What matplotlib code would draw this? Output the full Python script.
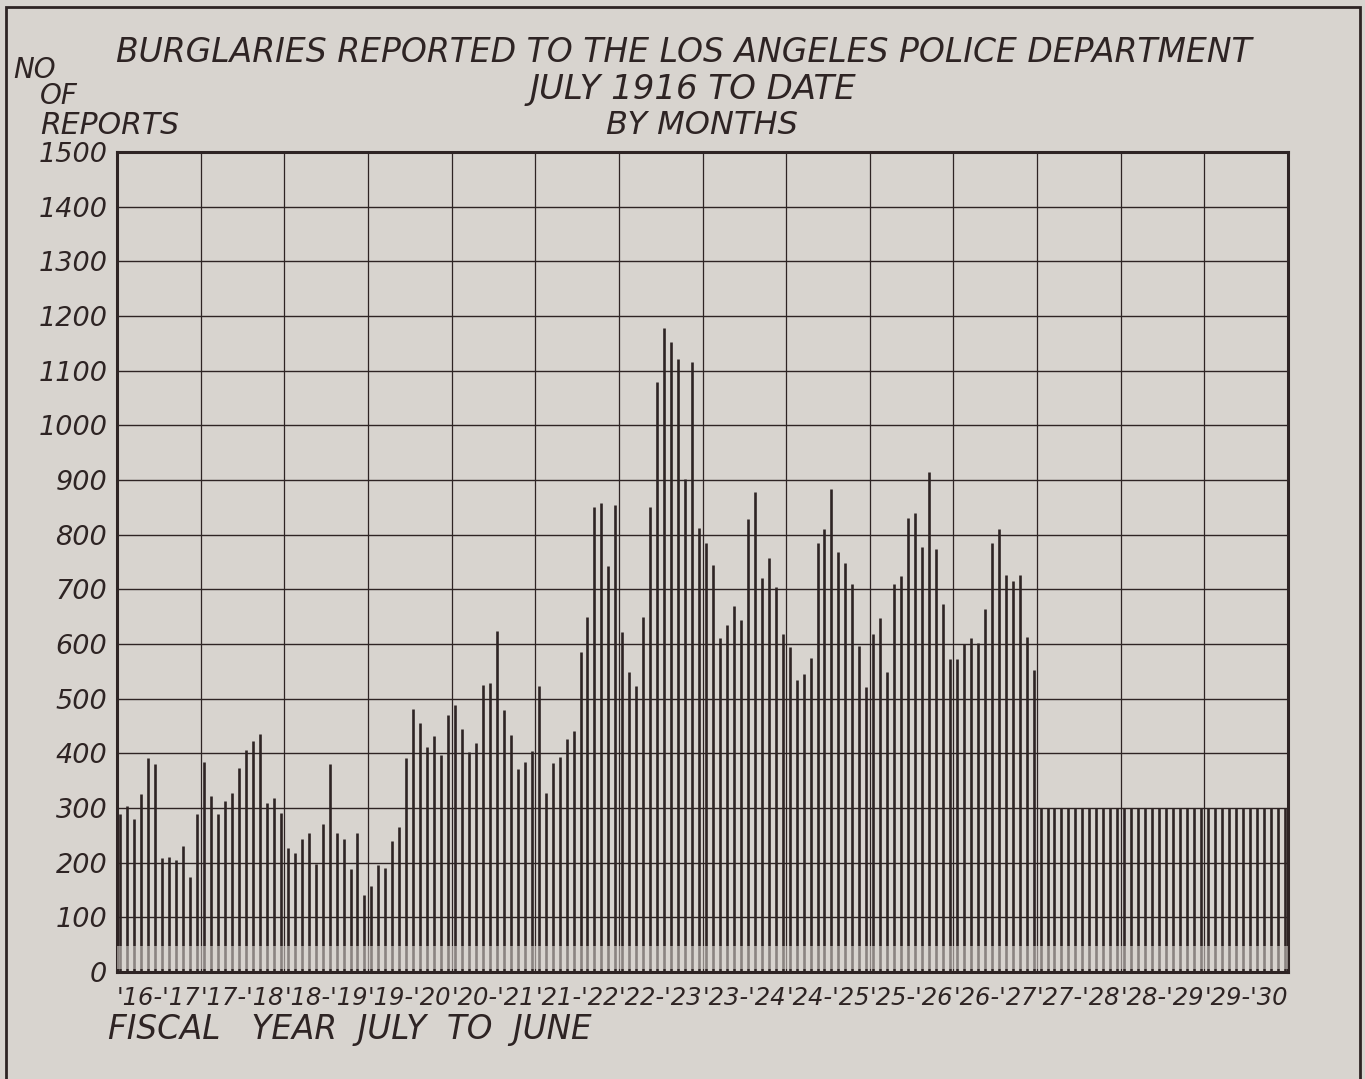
import matplotlib
matplotlib.use("Agg")
import matplotlib.pyplot as plt
import matplotlib.patches as mpatches
import numpy as np

# ---- data ----
fiscal_years = ["'16-'17", "'17-'18", "'18-'19", "'19-'20", "'20-'21", "'21-'22", "'22-'23",
                "'23-'24", "'24-'25", "'25-'26", "'26-'27", "'27-'28", "'28-'29", "'29-'30"]
fy_1916 = [289, 303, 280, 325, 392, 380, 208, 210, 205, 231, 174, 289]
fy_1917 = [385, 322, 289, 312, 327, 373, 406, 422, 436, 309, 319, 291]
fy_1918 = [226, 217, 243, 255, 197, 270, 380, 255, 244, 188, 254, 140]
fy_1919 = [158, 196, 190, 240, 266, 391, 482, 456, 411, 431, 397, 470]
fy_1920 = [488, 444, 403, 419, 525, 528, 623, 479, 433, 371, 385, 405]
fy_1921 = [524, 328, 382, 394, 426, 440, 586, 650, 850, 858, 742, 855]
fy_1922 = [622, 548, 524, 650, 850, 1080, 1178, 1152, 1122, 902, 1116, 812]
fy_1923 = [784, 744, 611, 635, 669, 644, 829, 878, 720, 758, 704, 618]
fy_1924 = [594, 534, 545, 575, 784, 811, 884, 768, 748, 709, 596, 522]
fy_1925 = [618, 648, 548, 709, 724, 831, 839, 778, 914, 773, 674, 572]
fy_1926 = [572, 600, 611, 601, 664, 785, 811, 727, 715, 727, 612, 552]
fy_1927 = [300] * 12
fy_1928 = [300] * 12
fy_1929 = [300] * 12
y_ticks = [0, 100, 200, 300, 400, 500, 600, 700, 800, 900, 1000, 1100, 1200, 1300, 1400, 1500]

monthly = (fy_1916 + fy_1917 + fy_1918 + fy_1919 + fy_1920 + fy_1921 + fy_1922 +
           fy_1923 + fy_1924 + fy_1925 + fy_1926 + fy_1927 + fy_1928 + fy_1929)

BG = "#d8d4cf"
INK = "#2e2424"

fig = plt.figure(figsize=(13.65, 10.79), dpi=100, facecolor=BG)
ax = fig.add_axes([117 / 1365, 1 - 972 / 1079, (1288 - 117) / 1365, (972 - 152) / 1079])
ax.set_facecolor(BG)

x = np.arange(len(monthly)) + 0.5
ax.vlines(x, 0, monthly, color=INK, lw=1.9, zorder=2)

ax.set_xlim(0, len(monthly))
ax.set_ylim(0, 1500)

# grid
for v in y_ticks[1:-1]:
    ax.axhline(v, color=INK, lw=1.0, zorder=1)
for k in range(1, len(fiscal_years)):
    ax.axvline(12 * k, color=INK, lw=0.9, zorder=1)

# faded band near the base (photo artefact)
ax.axhspan(5, 48, color=BG, alpha=0.55, zorder=3, lw=0)

for s in ax.spines.values():
    s.set_linewidth(2.2)
    s.set_color(INK)

ax.set_yticks(y_ticks)
ax.set_yticklabels([str(v) for v in y_ticks], fontsize=19.5, style="italic",
                   family="DejaVu Sans", color=INK)
ax.tick_params(axis="y", length=0, pad=7)
ax.set_xticks([12 * k + 6 for k in range(len(fiscal_years))])
ax.set_xticklabels(fiscal_years, fontsize=17.5, style="italic", family="DejaVu Sans", color=INK)
ax.tick_params(axis="x", length=0, pad=10)

tkw = dict(style="italic", family="DejaVu Sans", color=INK)
fig.text(684 / 1365, 1 - 52 / 1079, "BURGLARIES REPORTED TO THE LOS ANGELES POLICE DEPARTMENT",
         ha="center", va="center", fontsize=23.8, **tkw)
fig.text(693 / 1365, 1 - 89 / 1079, "JULY 1916 TO DATE", ha="center", va="center", fontsize=24.5, **tkw)
fig.text(702 / 1365, 1 - 125 / 1079, "BY MONTHS", ha="center", va="center", fontsize=23, **tkw)
fig.text(13 / 1365, 1 - 70 / 1079, "NO", ha="left", va="center", fontsize=20, **tkw)
fig.text(40 / 1365, 1 - 96 / 1079, "OF", ha="left", va="center", fontsize=20, **tkw)
fig.text(40 / 1365, 1 - 126 / 1079, "REPORTS", ha="left", va="center", fontsize=21.5, **tkw)
fig.text(108 / 1365, 1 - 1030 / 1079, "FISCAL   YEAR  JULY  TO  JUNE", ha="left", va="center",
         fontsize=23.5, **tkw)

# outer frame
fig.patches.append(mpatches.Rectangle((6 / 1365, -0.05), (1360 - 6) / 1365, 1.05 - 7 / 1079,
                                      transform=fig.transFigure, fill=False, lw=2.0,
                                      edgecolor=INK))

fig.savefig("out.png", dpi=100, facecolor=BG)
